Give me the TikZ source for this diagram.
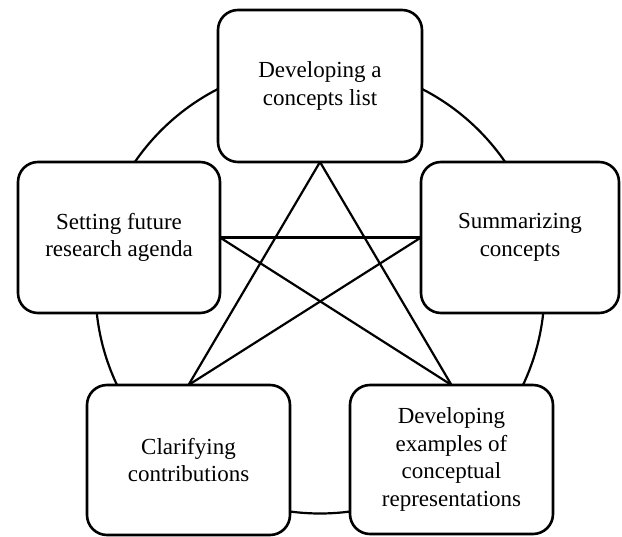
\documentclass[tikz,border=0pt]{standalone}
\usepackage{fontspec}
\setmainfont{Liberation Serif}
\begin{document}
\begin{tikzpicture}[x=1pt,y=-1pt,
  stagebox/.style={draw=black, line width=2.6pt, fill=white, rounded corners=20pt,
    align=center, inner sep=0pt, outer sep=0pt,
    font=\fontsize{23}{27.6}\selectfont,
    execute at begin node={\rule{0pt}{24pt}}},
  link/.style={draw=black, line width=2.2pt},
  ring/.style={draw=black, line width=2.2pt}]
\useasboundingbox (0,0) rectangle (622,537);
\draw[ring] (320,289) circle [radius=224.5pt];
\node[stagebox, minimum width=204pt, minimum height=152pt] (top) at (320,86) {Developing a\\concepts list};
\node[stagebox, minimum width=202pt, minimum height=151pt] (left) at (119,237.5) {Setting future\\research agenda};
\node[stagebox, minimum width=198pt, minimum height=151pt] (right) at (520,237.5) {Summarizing\\concepts};
\node[stagebox, minimum width=203pt, minimum height=150pt] (bl) at (188.5,460) {Clarifying\\contributions};
\node[stagebox, minimum width=203pt, minimum height=149pt] (br) at (451.5,459.5) {Developing\\examples of\\conceptual\\representations};
\draw[link] (top.south) -- (bl.north);
\draw[link] (top.south) -- (br.north);
\draw[link] (left.east) -- (right.west);
\draw[link] (left.east) -- (br.north);
\draw[link] (right.west) -- (bl.north);
\end{tikzpicture}
\end{document}
